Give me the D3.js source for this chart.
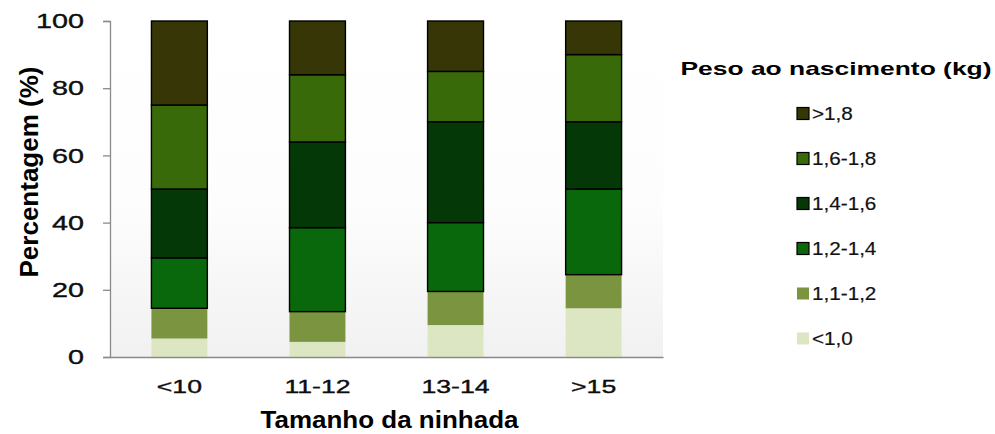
<!DOCTYPE html>
<html>

<head>
  <meta charset="UTF-8">
  <script src="https://d3js.org/d3.v7.js"></script>
  <style>
    body { margin: 0; background: #fff; }
    text { font-family: "Liberation Sans", Arial, sans-serif; fill: #111; }
  </style>
</head>

<body>
  <div id="chart"></div>

  <script>
    // data

    const categories = ["<10", "11-12", "13-14", ">15"];
    const weightClasses = ["<1,0", "1,1-1,2", "1,2-1,4", "1,4-1,6", "1,6-1,8", ">1,8"];
    const yTicks = [0, 20, 40, 60, 80, 100];

    // percentage of each weight class, one value per litter size
    const under10 = [5.5, 4.5, 9.5, 14.5];
    const w11to12 = [9, 9, 10, 10];
    const w12to14 = [15, 25, 20.5, 25.5];
    const w14to16 = [20.5, 25.5, 30, 20];
    const w16to18 = [25, 20, 15, 20];
    const over18 = [25, 16, 15, 10];

    const seriesValues = [under10, w11to12, w12to14, w14to16, w16to18, over18];

    // set up

    const W = 995, H = 434;
    const margin = { top: 21, left: 110 };
    const plotW = 553, plotH = 336;

    const svg = d3.select('#chart')
      .append('svg')
        .attr('width', W)
        .attr('height', H);

    const g = svg.append('g')
        .attr('transform', `translate(${margin.left},${margin.top})`);

    const table = categories.map((c, i) => {
      const row = { cat: c };
      weightClasses.forEach((k, j) => row[k] = seriesValues[j][i]);
      return row;
    });

    const stacked = d3.stack().keys(weightClasses)(table);

    // scales

    const x = d3.scaleBand()
        .domain(categories)
        .range([0, plotW])
        .paddingInner(0.595)
        .paddingOuter(0.3);

    const y = d3.scaleLinear()
        .domain([0, 100])
        .range([plotH, 0]);

    const color = d3.scaleOrdinal()
        .domain(weightClasses)
        .range(["#dce6c3", "#7a9440", "#0a680c", "#053807", "#386a0a", "#363606"]);

    const outlined = new Set(["1,2-1,4", "1,4-1,6", "1,6-1,8", ">1,8"]);

    // soft grey wash at the bottom of the plot area
    const grad = svg.append('defs').append('linearGradient')
        .attr('id', 'bg').attr('x1', 0).attr('y1', 0).attr('x2', 0).attr('y2', 1);
    grad.append('stop').attr('offset', '0%').attr('stop-color', '#ffffff');
    grad.append('stop').attr('offset', '55%').attr('stop-color', '#fdfdfd');
    grad.append('stop').attr('offset', '100%').attr('stop-color', '#f1f1f1');

    g.append('rect')
        .attr('width', plotW)
        .attr('height', plotH)
        .attr('fill', 'url(#bg)');

    // bars

    g.append('g')
      .selectAll('g')
      .data(stacked)
      .join('g')
        .attr('fill', d => color(d.key))
        .attr('stroke', d => outlined.has(d.key) ? '#000' : 'none')
        .attr('stroke-width', 1.4)
      .selectAll('rect')
      .data(d => d)
      .join('rect')
        .attr('x', d => x(d.data.cat))
        .attr('y', d => y(d[1]))
        .attr('width', x.bandwidth())
        .attr('height', d => y(d[0]) - y(d[1]));

    // axes

    const yAxis = g.append('g')
        .call(d3.axisLeft(y).tickValues(yTicks).tickSize(7).tickPadding(12));
    yAxis.select('.domain').attr('stroke', '#8a8a8a').attr('stroke-width', 1.3);
    yAxis.selectAll('.tick line').attr('stroke', '#8a8a8a').attr('stroke-width', 1.3);
    yAxis.selectAll('.tick text')
        .style('font-size', '21px')
        .attr('fill', '#000')
        .attr('stroke', '#000')
        .attr('stroke-width', 0.35)
        .attr('transform', 'scale(1.37,1)');

    const xAxis = g.append('g')
        .attr('transform', `translate(0,${plotH})`)
        .call(d3.axisBottom(x).tickSize(0).tickPadding(23));
    xAxis.select('.domain').attr('stroke', '#8a8a8a').attr('stroke-width', 1.3);
    xAxis.selectAll('.tick text')
        .style('font-size', '19px')
        .attr('fill', '#000')
        .attr('stroke', '#000')
        .attr('stroke-width', 0.35)
        .attr('transform', 'scale(1.4,1)');

    // axis titles

    svg.append('text')
        .attr('transform', `translate(${margin.left + plotW / 2 + 3},428) scale(1.13,1)`)
        .attr('text-anchor', 'middle')
        .style('font-size', '23px')
        .style('font-weight', 'bold')
        .style('fill', '#000')
        .text('Tamanho da ninhada');

    svg.append('text')
        .attr('transform', `translate(38,172) rotate(-90)`)
        .attr('text-anchor', 'middle')
        .style('font-size', '26px')
        .style('font-weight', 'bold')
        .style('fill', '#000')
        .text('Percentagem (%)');

    // legend

    svg.append('text')
        .attr('transform', 'translate(836,75) scale(1.39,1)')
        .attr('text-anchor', 'middle')
        .style('font-size', '19px')
        .style('font-weight', 'bold')
        .style('fill', '#000')
        .text('Peso ao nascimento (kg)');

    const legendOrder = weightClasses.slice().reverse();
    const ly = d3.scalePoint()
        .domain(legendOrder)
        .range([113.5, 338.5]);

    const item = svg.append('g')
      .selectAll('g')
      .data(legendOrder)
      .join('g')
        .attr('transform', d => `translate(797,${ly(d)})`);

    item.append('rect')
        .attr('x', 0)
        .attr('y', -6)
        .attr('width', 12)
        .attr('height', 12)
        .attr('fill', d => color(d))
        .attr('stroke', d => outlined.has(d) ? '#000' : 'none')
        .attr('stroke-width', 1.2);

    item.append('text')
        .attr('transform', 'translate(15,0) scale(1.15,1)')
        .attr('dy', '0.35em')
        .style('font-size', '18px')
        .attr('fill', '#1a1a1a')
        .attr('stroke', '#1a1a1a')
        .attr('stroke-width', 0.2)
        .text(d => d);
  </script>
</body>

</html>
